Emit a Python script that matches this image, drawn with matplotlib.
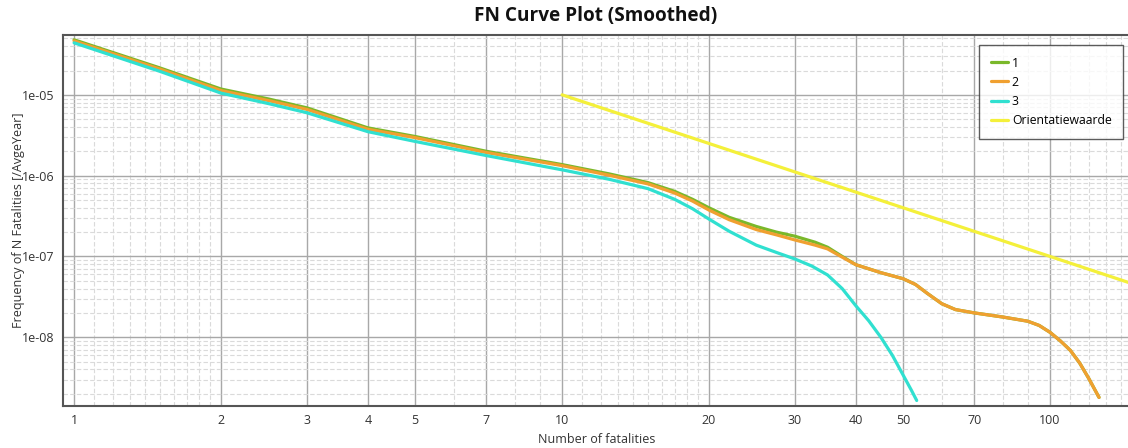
import matplotlib
matplotlib.use("Agg")
import matplotlib.pyplot as plt
from matplotlib.ticker import FixedLocator, NullFormatter, FixedFormatter

plt.rcParams['font.family'] = ['Open Sans', 'DejaVu Sans']

# ---- data ----
x1 = [1, 1.5, 2, 2.5, 3, 4, 5, 7, 10, 12.5, 15, 17, 18.5, 20, 22, 25, 27.5, 30, 33, 35, 37.5, 40,
      45, 50, 53, 56, 60, 64, 70, 80, 90, 95, 100, 105, 110, 115, 120, 126]
y1 = [4.8e-5, 2.15e-5, 1.18e-5, 8.9e-6, 6.9e-6, 3.9e-6, 3.05e-6, 2.0e-6, 1.37e-6, 1.05e-6, 8.2e-7, 6.4e-7,
      5.1e-7, 4.0e-7, 3.05e-7, 2.35e-7, 2.0e-7, 1.78e-7, 1.5e-7, 1.3e-7, 1.0e-7, 7.9e-8,
      6.3e-8, 5.3e-8, 4.5e-8, 3.5e-8, 2.6e-8, 2.2e-8, 2.0e-8, 1.78e-8, 1.58e-8, 1.4e-8, 1.15e-8, 9.0e-9, 6.9e-9,
      4.8e-9, 3.1e-9, 1.8e-9]
x2 = [1, 1.5, 2, 2.5, 3, 4, 5, 7, 10, 12.5, 15, 17, 18.5, 20, 22, 25, 27.5, 30, 33, 35, 37.5, 40,
      45, 50, 53, 56, 60, 64, 70, 80, 90, 95, 100, 105, 110, 115, 120, 126]
y2 = [4.65e-5, 2.08e-5, 1.13e-5, 8.5e-6, 6.6e-6, 3.75e-6, 2.95e-6, 1.93e-6, 1.33e-6, 1.01e-6, 7.9e-7, 6.1e-7,
      4.85e-7, 3.75e-7, 2.85e-7, 2.15e-7, 1.85e-7, 1.6e-7, 1.38e-7, 1.24e-7, 9.8e-8, 7.9e-8,
      6.3e-8, 5.3e-8, 4.5e-8, 3.5e-8, 2.6e-8, 2.2e-8, 2.0e-8, 1.78e-8, 1.58e-8, 1.4e-8, 1.15e-8, 9.0e-9, 6.9e-9,
      4.8e-9, 3.1e-9, 1.8e-9]
x3 = [1, 1.5, 2, 2.5, 3, 4, 5, 7, 10, 12.5, 15, 17, 18.5, 20, 22, 25, 27.5, 30, 32.5, 35, 37.5, 40,
      42.5, 45, 47.5, 50, 52, 53.3]
y3 = [4.4e-5, 1.95e-5, 1.05e-5, 7.8e-6, 6.0e-6, 3.5e-6, 2.65e-6, 1.77e-6, 1.18e-6, 9.0e-7, 6.9e-7, 5.1e-7,
      3.9e-7, 2.9e-7, 2.05e-7, 1.38e-7, 1.12e-7, 9.3e-8, 7.6e-8, 5.9e-8, 4.0e-8, 2.45e-8,
      1.6e-8, 1.0e-8, 6.0e-9, 3.4e-9, 2.2e-9, 1.65e-9]
x_orient = [10, 100, 150]
y_orient = [1e-5, 1e-7, 4.44e-8]

labels = ['1', '2', '3', 'Orientatiewaarde']
colors = ['#7ab82a', '#f0a030', '#30e0d0', '#f4f03a']
x_ticks = [1, 2, 3, 4, 5, 7, 10, 20, 30, 40, 50, 70, 100]
y_ticks = [1e-8, 1e-7, 1e-6, 1e-5]
y_tick_labels = ['1e-08', '1e-07', '1e-06', '1e-05']

fig = plt.figure(figsize=(11.28, 4.48), dpi=100)
ax = fig.add_axes([63/1128, 42/448, 1 - 63/1128 + 0.002, 371/448])
ax.set_xscale('log')
ax.set_yscale('log')
ax.set_xlim(0.949, 146)
ax.set_ylim(1.41e-9, 5.5e-5)

# grid
x_minor = [v * d for d in (1, 10, 100) for v in (1.1, 1.2, 1.3, 1.4, 1.5, 1.6, 1.7, 1.8, 1.9, 6, 8, 9)]
x_minor = [v for v in x_minor if 0.95 < v < 146 and v not in x_ticks]
ax.xaxis.set_major_locator(FixedLocator(x_ticks))
ax.xaxis.set_major_formatter(FixedFormatter([str(v) for v in x_ticks]))
ax.xaxis.set_minor_locator(FixedLocator(x_minor))
ax.xaxis.set_minor_formatter(NullFormatter())
y_minor = [m * 10.0**e for e in range(-9, -4) for m in range(2, 10)]
ax.yaxis.set_major_locator(FixedLocator(y_ticks))
ax.yaxis.set_major_formatter(FixedFormatter(y_tick_labels))
ax.yaxis.set_minor_locator(FixedLocator(y_minor))
ax.yaxis.set_minor_formatter(NullFormatter())

ax.grid(which='major', color='#a8a8a8', linewidth=1.0, linestyle='-')
ax.grid(which='minor', color='#dadada', linewidth=0.8, linestyle=(0, (4, 2)))
ax.set_axisbelow(True)
ax.tick_params(which='both', length=0, labelsize=9, colors='#333333', pad=6)

for s in ['left', 'bottom', 'top']:
    ax.spines[s].set_color('#555555')
    ax.spines[s].set_linewidth(1.5)
ax.spines['right'].set_visible(False)

kw = dict(linewidth=2.3, solid_joinstyle='round', solid_capstyle='round')
ax.plot(x1, y1, color=colors[0], label=labels[0], **kw)
ax.plot(x2, y2, color=colors[1], label=labels[1], **kw)
ax.plot(x3, y3, color=colors[2], label=labels[2], **kw)
ax.plot(x_orient, y_orient, color=colors[3], label=labels[3], **kw)

leg = ax.legend(loc='upper right', bbox_to_anchor=(0.9934, 0.973), fontsize=8.8, frameon=True,
                fancybox=False, edgecolor='#333333', handlelength=1.35, handletextpad=0.35,
                labelspacing=0.5, borderpad=0.95, borderaxespad=0)
leg.get_frame().set_linewidth(1.0)

fig.text(596/1128, 1 - 16/448, 'FN Curve Plot (Smoothed)', ha='center', va='center',
         fontsize=13.7, fontweight='bold', color='#111111')
ax.set_xlabel('Number of fatalities', fontsize=9, color='#333333', labelpad=4)
ax.set_ylabel('Frequency of N Fatalities [/AvgeYear]', fontsize=9, color='#333333', labelpad=-2)

fig.savefig('out.png', dpi=100)
